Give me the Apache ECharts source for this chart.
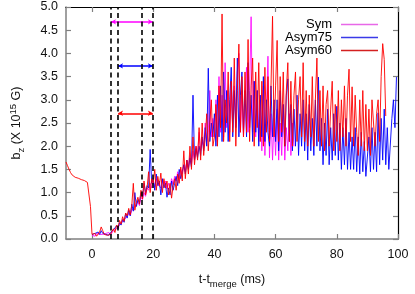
<!DOCTYPE html>
<html><head><meta charset="utf-8">
<script src="https://cdn.jsdelivr.net/npm/echarts@6/dist/echarts.min.js"></script>
<style>html,body{margin:0;padding:0;background:#fff}#c{width:415px;height:294px}</style>
</head><body><div id="c"></div>
<script>
// ---- data ----
const seriesNames = ['Sym', 'Asym75', 'Asym60'];
const sampleStep = 0.5; // ms between samples
const symStart = 0;
const symValues = [
 0.08,0.1,0.06,0.12,0.08,0.1,0.14,0.1,0.08,0.12,
 0.1,0.14,0.08,0.12,0.18,0.14,0.22,0.2,0.3,0.26,
 0.38,0.34,0.45,0.42,0.55,0.5,0.62,0.58,0.7,0.66,
 0.8,0.72,0.9,0.85,1.0,0.92,1.1,1.05,1.2,1.1,
 1.25,1.12,1.3,1.18,1.22,1.1,1.28,1.15,1.25,1.08,
 1.2,1.1,1.3,1.18,1.35,1.25,1.45,1.3,1.5,1.4,
 1.6,1.45,1.7,1.55,1.8,1.6,1.9,1.7,2.0,1.8,
 2.3,1.9,2.1,2.0,2.5,2.1,2.3,3.2,2.2,2.6,
 2.2,3.0,2.1,3.5,2.3,3.1,2.2,3.8,2.4,3.2,
 2.3,3.4,2.4,3.3,2.5,3.6,4.0,2.3,3.2,2.2,
 2.2,3.7,2.3,3.2,4.79,2.3,3.4,2.2,3.2,2.1,
 3.0,1.9,3.3,1.8,2.8,3.94,1.75,2.7,1.7,2.6,
 1.8,2.8,1.7,2.5,1.8,2.9,1.7,2.4,1.9,2.7,
 1.8,2.5,2.0
];
const asym75Start = 0;
const asym75Values = [
 0.1,0.06,0.12,0.08,0.15,0.1,0.18,0.12,0.08,0.1,
 0.12,0.08,0.14,0.1,0.2,0.16,0.28,0.22,0.35,0.3,
 0.42,0.36,0.55,0.45,0.62,0.5,0.75,0.6,1.0,0.7,
 0.85,0.78,1.0,0.9,1.2,1.0,1.15,1.1,1.93,1.2,
 1.3,1.05,1.4,1.15,1.25,0.95,1.3,1.1,1.2,0.9,
 1.1,0.95,1.25,1.05,1.2,1.35,1.15,1.5,1.3,1.45,
 1.6,1.4,1.7,1.5,1.75,1.55,3.1,1.7,1.95,1.75,
 2.0,1.8,2.2,1.9,2.4,2.0,3.68,2.1,2.5,2.2,
 2.7,2.0,3.1,2.2,3.3,2.1,3.6,2.3,3.2,2.1,
 3.0,3.7,2.2,3.2,2.4,3.9,2.2,3.1,3.6,2.3,
 3.2,2.2,3.8,2.4,3.1,2.1,3.4,2.3,3.2,2.0,
 3.1,2.2,3.5,2.1,3.0,2.3,2.0,3.3,2.2,3.0,
 2.1,3.0,1.9,3.2,2.2,2.9,2.0,3.1,3.45,2.1,
 2.9,1.9,2.8,2.0,3.1,1.8,2.7,2.0,3.0,1.9,
 2.7,1.7,2.9,1.9,2.6,1.8,3.0,2.0,3.49,1.9,
 2.6,1.6,2.5,1.8,2.8,1.6,2.4,1.7,2.7,1.8,
 2.86,1.7,2.5,1.5,2.4,1.6,2.6,1.5,2.3,1.5,
 2.2,1.5,2.4,1.45,2.2,1.4,2.3,1.45,2.1,1.35,
 1.35,2.2,1.45,2.4,1.5,2.3,1.45,2.72,1.6,2.6,
 1.7,2.8,1.6,2.4,1.5,1.48,2.6,3.0,2.4,3.49
];
const asym60Start = -8.5;
const asym60Values = [
 1.66,1.58,1.5,1.43,1.38,1.35,1.33,1.32,1.31,1.3,1.28,1.27,1.26,1.24,1.22,1.18,0.7,
 0.1,0.08,0.12,0.06,0.1,0.15,0.26,0.18,0.1,0.14,
 0.08,0.12,0.1,0.16,0.22,0.14,0.3,0.24,0.4,0.32,
 0.48,0.38,0.56,0.5,0.66,0.52,0.72,1.2,0.62,0.8,
 0.9,0.75,1.05,0.86,1.25,0.95,1.1,1.45,1.0,1.3,
 1.2,1.5,1.05,1.35,1.15,1.42,1.0,1.3,1.1,1.25,
 0.95,1.2,0.88,1.15,1.3,1.05,1.4,1.2,1.55,1.25,
 1.9,1.3,1.7,1.4,2.0,1.5,2.2,1.6,2.0,1.7,
 2.4,1.7,2.5,1.8,2.2,2.7,1.9,2.5,3.0,2.0,
 2.2,2.9,2.0,3.3,2.4,4.85,2.1,3.0,2.5,3.6,
 2.1,3.4,2.3,3.9,2.0,3.2,4.2,2.3,3.5,2.2,
 3.6,2.3,4.3,2.1,3.3,3.9,2.0,3.6,2.4,3.8,
 2.1,3.4,2.0,3.7,2.3,3.5,2.1,3.3,4.8,2.2,
 3.3,4.28,2.1,3.5,2.3,3.6,2.0,3.2,3.8,2.1,
 3.4,2.0,3.1,3.6,2.1,3.0,3.5,2.2,3.8,2.1,
 3.2,2.0,3.1,2.2,3.5,2.0,3.0,3.9,2.1,3.2,
 2.0,3.3,1.9,2.9,3.2,2.0,2.8,3.4,1.9,2.9,
 2.1,3.2,1.9,3.0,2.2,3.3,2.0,3.1,3.66,2.1,
 3.28,2.0,3.1,2.3,1.8,3.0,2.0,3.2,1.9,2.9,
 1.9,2.8,1.8,3.0,2.99,2.0,2.7,3.0,2.1,3.5,
 4.21,3.87,2.65
];
const xTickValues = [0, 20, 40, 60, 80, 100];
const markerTimes = [6.2, 8.5, 16.3, 19.9];
const arrowLevels = [4.68, 3.73, 2.71];
const arrowStarts = [6.2, 8.5, 8.5];
const arrowEnds = [19.9, 19.9, 19.9];

// ---- chart ----
const colors = ['#ff00ff', '#0000ff', '#ff0000'];
const legendColors = ['#e868e8', '#3a3ae8', '#d42020'];
function toPairs(start, vals) { return vals.map((v, i) => [start + i * sampleStep, v]); }
const starts = [symStart, asym75Start, asym60Start];
const vals = [symValues, asym75Values, asym60Values];
const font = '"Liberation Sans", Arial, sans-serif';

const chart = echarts.init(document.getElementById('c'), null, {renderer: 'canvas'});
const series = seriesNames.map((name, k) => ({
  name, type: 'line', data: toPairs(starts[k], vals[k]), symbol: 'none', showSymbol: false,
  lineStyle: {width: 1, color: colors[k], opacity: k === 0 ? 0.85 : 0.9}, itemStyle: {color: legendColors[k]},
  z: 2 + k, silent: true,
  markLine: {
    silent: true, symbol: ['arrow', 'arrow'], symbolSize: [4, 5], label: {show: false},
    lineStyle: {color: colors[k], width: 1.5, type: 'solid', opacity: 1},
    data: [[{coord: [arrowStarts[k], arrowLevels[k]]}, {coord: [arrowEnds[k], arrowLevels[k]]}]]
  }
}));
series.push({
  type: 'line', data: [], silent: true, z: 10,
  markLine: {
    silent: true, symbol: ['none', 'none'], label: {show: false},
    lineStyle: {color: '#000', width: 1.6, type: [5, 3.5]},
    data: markerTimes.map(t => ({xAxis: t}))
  }
});

chart.setOption({
  animation: false,
  backgroundColor: '#fff',
  grid: {left: 63, right: 17, top: 7, bottom: 46},
  legend: {
    data: seriesNames, orient: 'vertical', right: 32, top: 13, align: 'right',
    icon: 'rect', itemWidth: 37, itemHeight: 1.6, itemGap: 0,
    textStyle: {fontFamily: font, fontSize: 13, lineHeight: 12.8, color: '#000', width: 48, align: 'right', padding: [0, 4, 0, 0]},
    selectedMode: false
  },
  xAxis: [{
    type: 'value', min: -8.5, max: 100, position: 'bottom',
    axisLine: {onZero: false, lineStyle: {color: '#808080', width: 1.5}},
    axisTick: {inside: true, length: 5, customValues: xTickValues, lineStyle: {color: '#808080', width: 1.2}},
    axisLabel: {customValues: xTickValues, fontFamily: font, fontSize: 12.5, color: '#111', margin: 9},
    splitLine: {show: false},
    name: '{a|t-t}{s|merge}{a| (ms)}', nameLocation: 'middle', nameGap: 32,
    nameTextStyle: {rich: {
      a: {fontFamily: font, fontSize: 12.5, color: '#111', lineHeight: 18},
      s: {fontFamily: font, fontSize: 9.5, color: '#111', verticalAlign: 'bottom'}
    }}
  }, {
    type: 'value', min: -8.5, max: 100, position: 'top',
    axisLine: {onZero: false, lineStyle: {color: '#000', width: 1.2}},
    axisTick: {inside: true, length: 5, customValues: xTickValues, lineStyle: {color: '#808080', width: 1.2}},
    axisLabel: {show: false}, splitLine: {show: false}
  }],
  yAxis: [{
    type: 'value', min: 0, max: 5, interval: 0.5, position: 'left',
    axisLine: {show: true, onZero: false, lineStyle: {color: '#808080', width: 1.5}},
    axisTick: {show: true, inside: true, length: 5, lineStyle: {color: '#808080', width: 1.2}},
    axisLabel: {formatter: v => v.toFixed(1), fontFamily: font, fontSize: 12.5, color: '#111', margin: 8},
    splitLine: {show: false},
    name: '{a|b}{s|z}{a| (X 10}{p|15}{a| G)}', nameLocation: 'middle', nameGap: 40, nameRotate: 90,
    nameTextStyle: {rich: {
      a: {fontFamily: font, fontSize: 12.5, color: '#111', lineHeight: 18},
      s: {fontFamily: font, fontSize: 9.5, color: '#111', verticalAlign: 'bottom'},
      p: {fontFamily: font, fontSize: 9.5, color: '#111', verticalAlign: 'top'}
    }}
  }, {
    type: 'value', min: 0, max: 5, interval: 0.5, position: 'right',
    axisLine: {show: true, onZero: false, lineStyle: {color: '#000', width: 1.2}},
    axisTick: {show: true, inside: true, length: 5, lineStyle: {color: '#808080', width: 1.2}},
    axisLabel: {show: false}, splitLine: {show: false}
  }],
  series
});
</script></body></html>
